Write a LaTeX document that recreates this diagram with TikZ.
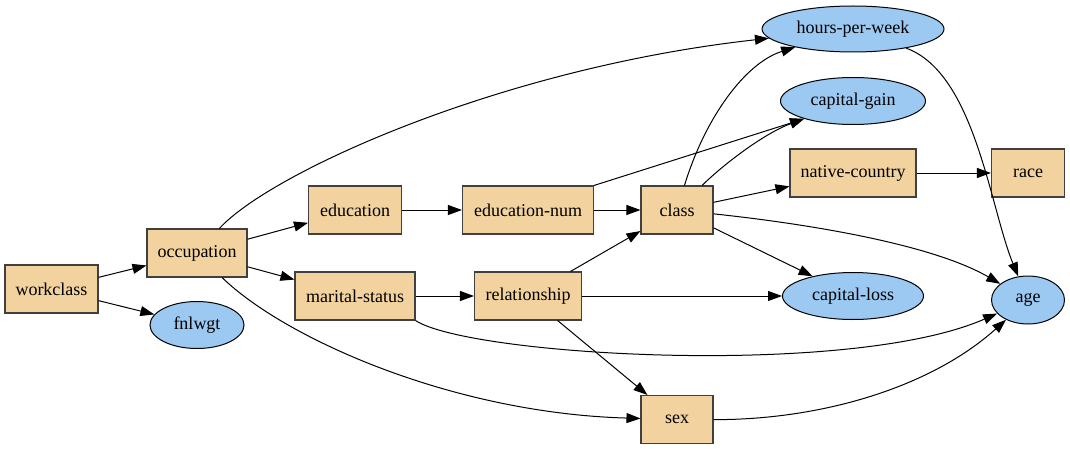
\documentclass[tikz,border=0pt]{standalone}
\usepackage{fontspec}
\setmainfont{Liberation Serif}
\usetikzlibrary{arrows.meta,shapes.geometric}
\definecolor{boxfill}{HTML}{F2D29E}
\definecolor{ellfill}{HTML}{9CC9F2}
\begin{document}
\begin{tikzpicture}[x=1pt,y=1pt,
  every node/.style={font=\fontsize{18}{20}\selectfont, inner sep=0pt},
  rbox/.style={draw=black!75, line width=1.1pt, fill=boxfill, rectangle, minimum height=48pt},
  oval/.style={draw=black, line width=1pt, fill=ellfill, ellipse, minimum height=47pt},
  edge/.style={line width=1pt, -{Triangle[length=14pt,width=10pt]}}
]
\useasboundingbox (0,0) rectangle (1070,448);
\node[rbox, minimum width=93pt] (workclass) at (51.5,159) {workclass};
\node[rbox, minimum width=100pt] (occupation) at (197,195) {occupation};
\node[oval, minimum width=94pt] (fnlwgt) at (197,123) {fnlwgt};
\node[rbox, minimum width=93pt] (education) at (355,238) {education};
\node[rbox, minimum width=120pt] (marital) at (355,152) {marital-status};
\node[rbox, minimum width=131pt] (edunum) at (528,238) {education-num};
\node[rbox, minimum width=107pt] (relationship) at (528,152) {relationship};
\node[rbox, minimum width=72pt] (class) at (677,238) {class};
\node[rbox, minimum width=72pt] (sex) at (677,28.5) {sex};
\node[oval, minimum width=182pt, minimum height=46pt] (hpw) at (853,419) {hours-per-week};
\node[oval, minimum width=145pt] (cgain) at (853,347) {capital-gain};
\node[rbox, minimum width=126pt] (native) at (853,275) {native-country};
\node[rbox, minimum width=73pt] (race) at (1028,275) {race};
\node[oval, minimum width=141pt] (closs) at (853,152) {capital-loss};
\node[oval, minimum width=73pt, minimum height=48pt] (age) at (1028,148) {age};

\draw[edge] (workclass) -- (occupation);
\draw[edge] (workclass) -- (fnlwgt);
\draw[edge] (occupation) -- (education);
\draw[edge] (occupation) -- (marital);
\draw[edge] (occupation) .. controls (270,275) and (500,380) .. (hpw);
\draw[edge] (occupation) .. controls (283,111) and (450,35) .. (sex);
\draw[edge] (education) -- (edunum);
\draw[edge] (edunum) -- (class);
\draw[edge] (edunum.north east) -- (cgain.200);
\draw[edge] (marital) -- (relationship);
\draw[edge] (marital.south east) .. controls (470,92) and (850,70) .. (age);
\draw[edge] (relationship) -- (class);
\draw[edge] (relationship) -- (closs);
\draw[edge] (relationship) -- (sex);
\draw[edge] (class) .. controls (705,330) and (745,385) .. (hpw);
\draw[edge] (class) .. controls (725,285) and (765,315) .. (cgain.200);
\draw[edge] (class) -- (native);
\draw[edge] (class) -- (closs);
\draw[edge] (class) .. controls (800,225) and (930,205) .. (age);
\draw[edge] (native) -- (race);
\draw[edge] (hpw) .. controls (975,375) and (990,240) .. (age);
\draw[edge] (sex) .. controls (820,28) and (930,60) .. (age);
\end{tikzpicture}
\end{document}
